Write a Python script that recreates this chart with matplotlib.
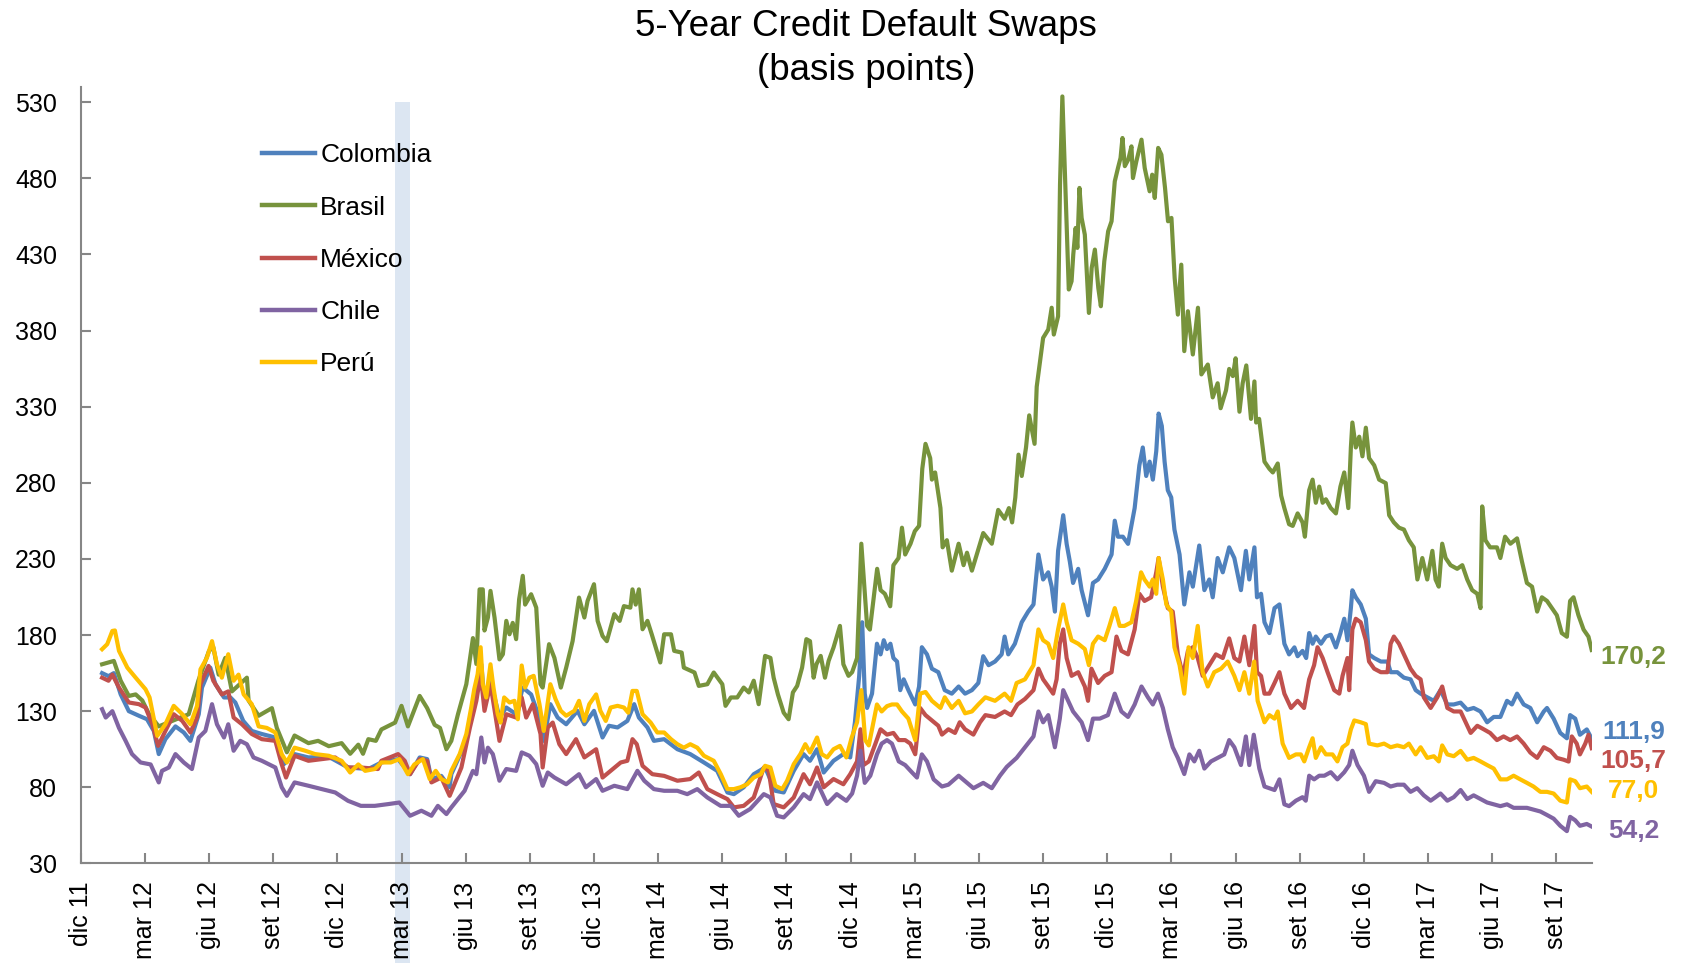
import matplotlib
matplotlib.use("Agg")
import matplotlib.pyplot as plt
from matplotlib.patches import Rectangle

plt.rcParams['font.family'] = ['Liberation Sans', 'DejaVu Sans']

# x = months since the "dic 11" tick
tick_months = list(range(0, 70, 3))
tick_labels = ["dic 11", "mar 12", "giu 12", "set 12", "dic 12", "mar 13", "giu 13", "set 13",
               "dic 13", "mar 14", "giu 14", "set 14", "dic 14", "mar 15", "giu 15", "set 15",
               "dic 15", "mar 16", "giu 16", "set 16", "dic 16", "mar 17", "giu 17", "set 17"]

colombia_m = [1.0, 1.3, 1.55, 1.87, 2.25, 2.72, 3.1, 3.42, 3.65, 3.96, 4.43, 4.82, 5.13, 5.52, 5.67, 6.06, 6.3, 6.7, 7.0, 7.23,
              7.6, 8.0, 8.47, 9.1, 9.48, 10.0, 10.65, 11.6, 12.5, 13.45, 14.06, 14.84, 15.4, 15.85, 16.2, 16.4, 16.86, 17.25,
              17.33, 18.03, 18.4, 18.73, 18.88, 19.16, 19.58, 19.9, 20.36, 20.67, 21.06, 21.45, 21.65, 21.96, 22.3, 22.7,
              23.23, 23.55, 24.0, 24.4, 24.7, 25.1, 25.56, 25.88, 26.1, 26.5, 26.8, 27.28, 27.9, 28.5, 29.14, 29.76, 30.24,
              30.54, 31.0, 31.47, 32.0, 32.48, 32.87, 33.34, 33.8, 34.1, 34.43, 34.74, 35.2, 35.66, 35.98,
              36.2, 36.4, 36.54, 36.66, 36.77, 37.0, 37.23, 37.4, 37.55, 37.7, 37.86, 38.0, 38.17, 38.32, 38.48, 38.7, 39.02,
              39.2, 39.33, 39.57, 39.8, 40.1, 40.4, 40.73, 41.05, 41.35, 41.67, 41.97, 42.2, 42.45, 42.75, 43.06, 43.2,
              43.37, 43.68, 44.0, 44.3, 44.55, 44.78, 45.0, 45.24, 45.4, 45.55, 45.7, 45.94, 46.1, 46.25, 46.4, 46.64,
              46.8, 47.1, 47.33, 47.57, 47.88, 48.2, 48.35, 48.5, 48.73, 48.97, 49.28, 49.5, 49.66, 49.82, 49.98, 50.13,
              50.29, 50.4, 50.55, 50.68, 50.83, 50.99, 51.14, 51.38, 51.6, 51.84, 52.0, 52.3, 52.54, 52.77, 52.93, 53.16,
              53.4, 53.7, 53.94, 54.25, 54.48, 54.64, 54.88, 55.0, 55.19, 55.35, 55.58, 55.82, 56.05, 56.28, 56.5, 56.75,
              56.9, 57.13, 57.3, 57.44, 57.6, 57.75, 57.99, 58.22, 58.45, 58.69, 58.9, 59.08, 59.23, 59.39, 59.46, 59.62,
              59.85, 60.09, 60.24, 60.48, 60.79, 61.1, 61.25, 61.56, 61.87, 62.18, 62.42, 62.65, 62.96, 63.27, 63.58, 63.9,
              64.2, 64.52, 64.83, 65.13, 65.45, 65.76, 66.07, 66.38, 66.69, 66.92, 67.16, 67.47, 67.78, 68.1, 68.41, 68.56,
              68.87, 69.18, 69.49, 69.64, 69.88, 70.1, 70.42, 70.65]
colombia_v = [155, 153, 155, 141, 130, 127, 124.7, 117, 101.8, 111.6, 120, 116, 110.5, 128, 145.5, 158.6, 147.7, 139, 139, 135.7,
              123.6, 117, 115, 112.7, 95, 101.8, 99.6, 100, 93, 92, 96.3, 98.5, 88.6, 99.6, 98.5, 85.4, 87.5, 80,
              88.6, 110.5, 141, 160.8, 136.8, 150, 125.8, 132.4, 128, 145.5, 141, 125.8, 110.5, 134.6, 125.8, 121.4,
              130.2, 121.4, 130.2, 112.7, 120.4, 119.3, 123.6, 134.6, 125.8, 119.3, 110.5, 111.6, 105, 101.8, 96.3, 90.8, 76.6,
              75.5, 80, 88.6, 93, 77.7, 76.6, 90.8, 101.8, 97.4, 105, 89.7, 97.4, 101.8, 99.6,
              122.7, 153.2, 188.4, 141.5, 132.1, 141.5, 174.3, 167.3, 176.6, 170.8, 174.3, 164.9, 162.6, 143.8, 150.9, 143.8, 134.4,
              146.2, 172, 167.3, 157.9, 155.6, 143.8, 141.5, 146.2, 141.5, 143.8, 148.5, 166.1, 160.2, 162.6, 167.3, 179,
              167.3, 174.3, 188.4, 195.4, 200.1, 232.9, 216.5, 221.2, 211.8, 195.4, 235.3, 258.7, 239.9, 228.2, 214.2, 223.5,
              209.5, 193, 214.2, 216.5, 223.5, 232.9, 255.1, 244.6, 244.6, 239.9, 263.4, 291.5, 303.2, 284.5, 293.9, 282.1,
              300.8, 325.5, 317.3, 293.9, 275.1, 270.4, 249.3, 232.9, 200.1, 221.2, 211.8, 238.8, 209.5, 216.5, 204.8, 230.6,
              221.2, 237.6, 230.6, 209.5, 235.3, 216.5, 237.6, 204.8, 207.1, 188.4, 181.3, 197.7, 200.1, 174.3, 167.3, 171.9,
              166.1, 169.6, 164.9, 181.3, 174.3, 179, 174.3, 179, 180.2, 171.9, 181.3, 190.7, 176.6, 197.7, 209.4, 204.8,
              200.1, 190.7, 167.3, 164.9, 162.6, 162.6, 155.6, 155.6, 152, 150.9, 143.8, 141.5, 139.1, 136.8, 143.8, 134.4,
              134.4, 135.6, 130.9, 132.1, 129.8, 122.7, 126.2, 126.2, 136.8, 134.4, 141.5, 134.4, 132.1, 122.7, 129.8, 132.1,
              125.1, 115.7, 112.2, 127.4, 125.1, 114.5, 118, 111.9]

brasil_m = [1.0, 1.55, 1.87, 2.25, 2.57, 2.88, 3.2, 3.65, 4.28, 5.05, 5.5, 6.0, 6.2, 6.45, 6.76, 7.07, 7.77, 7.85, 8.32, 8.94,
            9.17, 9.64, 10.0, 10.65, 11.1, 11.6, 12.2, 12.6, 12.98, 13.2, 13.45, 13.8, 14.06, 14.7, 15.0, 15.3, 15.85, 16.2,
            16.55, 16.8, 17.1, 17.33, 17.64, 18.03, 18.34, 18.5, 18.65, 18.8, 18.88, 19.04, 19.16, 19.35, 19.58, 19.74, 19.9,
            20.05, 20.2, 20.36, 20.5, 20.67, 20.78, 21.06, 21.3, 21.5, 21.6, 21.9, 22.15, 22.45, 22.7, 23.0, 23.3, 23.55,
            23.7, 24.0, 24.17, 24.4, 24.6, 24.95, 25.2, 25.4, 25.7, 25.8, 25.95, 26.1, 26.27, 26.5, 26.7, 27.1, 27.28,
            27.6, 27.75, 28.1, 28.2, 28.7, 28.9, 29.3, 29.6, 30.0, 30.15, 30.4, 30.7, 31.0, 31.24, 31.47, 31.7, 32.0, 32.25,
            32.4, 32.6, 32.87, 33.1, 33.3, 33.5, 33.73, 33.93, 34.1, 34.27, 34.4, 34.6, 34.8, 34.97, 35.2, 35.5, 35.66, 35.9,
            36.07, 36.3, 36.5, 36.77, 36.9, 37.08, 37.24, 37.4, 37.6, 37.85, 38.0, 38.24, 38.4, 38.55, 38.8, 39.0, 39.2,
            39.35, 39.5, 39.72, 39.8, 39.95, 40.2, 40.3, 40.5, 40.73, 41.05, 41.28, 41.44, 41.67, 42.0, 42.2, 42.6, 42.9,
            43.2, 43.4, 43.55, 43.7, 43.85, 44.0, 44.2, 44.35, 44.6, 44.7, 45.0, 45.24, 45.4, 45.5, 45.7, 45.79, 45.9,
            46.03, 46.1, 46.2, 46.33, 46.41, 46.52, 46.6, 46.7, 46.8, 46.95, 47.14, 47.27, 47.42, 47.58, 47.7, 47.86, 48.04,
            48.2, 48.35, 48.5, 48.62, 48.71, 48.82, 48.98, 49.13, 49.2, 49.36, 49.6, 49.75, 49.98, 50.1, 50.22, 50.38,
            50.53, 50.7, 50.84, 51.0, 51.15, 51.3, 51.46, 51.6, 51.77, 52.0, 52.24, 52.4, 52.7, 52.93, 53.16, 53.3, 53.55,
            53.7, 53.87, 54.0, 54.18, 54.33, 54.5, 54.72, 54.88, 54.96, 55.1, 55.35, 55.58, 55.74, 55.97, 56.13, 56.28,
            56.5, 56.67, 56.9, 57.13, 57.24, 57.44, 57.6, 57.75, 57.91, 58.07, 58.22, 58.45, 58.69, 58.9, 59.08, 59.27,
            59.39, 59.46, 59.62, 59.78, 59.93, 60.09, 60.24, 60.48, 60.71, 61.02, 61.18, 61.4, 61.64, 61.87, 62.1, 62.33,
            62.5, 62.73, 62.96, 63.2, 63.35, 63.5, 63.66, 63.82, 64.05, 64.36, 64.6, 64.83, 65.06, 65.3, 65.45, 65.53,
            65.68, 65.9, 66.22, 66.38, 66.6, 66.85, 67.16, 67.39, 67.62, 67.86, 68.1, 68.32, 68.56, 68.79, 69.02, 69.25,
            69.49, 69.64, 69.8, 70.03, 70.27, 70.5, 70.65]
brasil_v = [160.8, 163, 150, 140, 141, 137, 128, 120, 123.6, 128, 150, 169.6, 172, 154, 165, 143, 152, 137, 127, 132,
            119, 103, 114, 109, 110.5, 107, 109, 102, 108, 102, 111.6, 110.5, 118, 122.5, 133.5, 120, 140, 132,
            121, 119, 105, 110.5, 128, 147.7, 178, 161, 210, 210, 183, 191.5, 209, 191.5, 164, 167.4, 189.3,
            180.5, 188, 177.3, 203.5, 218.9, 200, 206.8, 198, 147.7, 145.5, 174, 165, 145.5, 158.6, 176, 204.6, 191.5,
            202.4, 213.4, 189.3, 179.4, 176, 193.7, 189.3, 199, 198, 210, 200, 210, 183.8, 189.3, 180.5, 162, 180.5,
            180.5, 169.6, 168.5, 158.6, 155.4, 146.6, 147.7, 155.4, 147.7, 133.5, 139, 139, 145.5, 142.3, 150, 134.6, 166.3, 165,
            152, 141, 129, 124.7, 142.3, 146.6, 158.6, 177.3, 176, 152, 160.8, 166.3, 152, 163, 171.8, 186, 160.8, 153.2,
            155.6, 164.9, 240, 186, 183.6, 204.8, 223.5, 209.5, 207.1, 198.9, 225.9, 230.6, 250.5, 232.9, 240, 248.2, 251.7,
            289.2, 305.6, 296.2, 282.1, 286.8, 263.4, 237.6, 242.3, 222.3, 240, 225.9, 234.1, 222.3, 237.6, 247, 240, 262.2,
            256.4, 263.4, 254, 270.4, 298.5, 284.5, 303.2, 324.3, 305.6, 343.1, 375.2, 380.7, 395, 377.4, 389.4, 475.8, 533.8,
            478, 446.3, 407, 412.4, 430, 447.4, 434.3, 473.7, 454, 443, 391.6, 421.1, 433.2, 408, 396, 425.5, 445.2,
            451.8, 478, 486.8, 493.4, 506.5, 488, 492.3, 501, 480.2, 491.2, 505.4, 486.8, 471.5, 482.4, 467.1, 500,
            495.5, 473.7, 451.8, 454, 414.6, 390.5, 423.3, 366.5, 392.7, 364.3, 395, 351.2, 357.7, 336.1, 345.4, 329, 340.7,
            354.8, 350.1, 361.8, 326.7, 345.4, 357.1, 322, 346.6, 319.6, 322, 293.9, 289.2, 286.8, 292.7, 271.6, 263.4,
            252.8, 251.7, 259.9, 254, 244.6, 275.1, 282.1, 266.9, 277.5, 266.9, 269.2, 263.4, 259.9, 277.5, 286.8, 263.4,
            303.2, 319.6, 303.2, 310.3, 297.4, 316.2, 296.2, 291.5, 282.1, 279.8, 258.7, 254, 250.5, 249.3, 242.3, 237.6,
            216.5, 230.6, 216.5, 235.3, 216.5, 211.8, 240, 230.6, 225.9, 223.5, 225.9, 216.5, 209.5, 207.1, 197.7, 264.5,
            242.3, 237.6, 237.6, 230.6, 244.6, 240, 243.5, 228.2, 214.2, 211.8, 195.4, 204.8, 202.4, 197.7, 193, 181.3,
            178.9, 202.4, 204.8, 193, 183.6, 178.9, 170.2]

mexico_m = [1.0, 1.3, 1.48, 1.79, 2.25, 2.72, 3.03, 3.35, 3.62, 3.96, 4.35, 4.75, 5.13, 5.44, 5.6, 5.98, 6.2, 6.6, 6.9, 7.15,
            7.54, 8.0, 8.47, 9.1, 9.4, 9.6, 10.0, 10.65, 11.27, 11.9, 12.5, 13.1, 13.9, 14.06, 14.84, 15.15, 15.4, 15.85,
            16.2, 16.4, 16.86, 17.25, 17.8, 18.2, 18.5, 18.7, 18.88, 19.16, 19.58, 19.9, 20.36, 20.62, 20.83, 21.14, 21.5,
            21.6, 21.84, 22.07, 22.38, 22.7, 23.16, 23.55, 24.1, 24.4, 24.78, 25.25, 25.56, 25.8, 26.0, 26.27, 26.73, 27.28,
            27.9, 28.5, 28.9, 29.3, 29.76, 30.24, 30.54, 31.0, 31.47, 31.94, 32.17, 32.4, 32.87, 33.34, 33.8, 34.1, 34.43,
            34.74, 35.2, 35.66, 35.98, 36.3, 36.46, 36.6, 36.85, 37.16, 37.4, 37.7, 38.0, 38.25, 38.55, 38.79, 39.02, 39.25,
            39.5, 39.8, 40.1, 40.27, 40.57, 40.88, 41.1, 41.35, 41.74, 42.05, 42.3, 42.75, 43.2, 43.5, 43.8, 44.15, 44.55,
            44.78, 45.0, 45.24, 45.47, 45.63, 45.78, 45.94, 46.1, 46.33, 46.64, 46.95, 47.1, 47.26, 47.57, 47.88, 48.2,
            48.43, 48.66, 48.97, 49.28, 49.5, 49.74, 50.05, 50.29, 50.4, 50.6, 50.83, 51.06, 51.3, 51.54, 51.77, 52.0,
            52.23, 52.46, 52.77, 53.08, 53.4, 53.7, 53.94, 54.18, 54.41, 54.64, 54.88, 55.0, 55.19, 55.35, 55.58, 55.82,
            56.05, 56.28, 56.59, 56.9, 57.2, 57.44, 57.67, 57.83, 58.07, 58.3, 58.61, 58.85, 59.0, 59.23, 59.31, 59.46,
            59.62, 59.85, 60.09, 60.24, 60.48, 60.79, 61.1, 61.25, 61.4, 61.64, 61.87, 62.18, 62.42, 62.65, 62.8, 63.12,
            63.43, 63.66, 63.9, 64.2, 64.52, 64.83, 64.99, 65.3, 65.6, 65.9, 66.22, 66.53, 66.84, 67.16, 67.47, 67.78,
            68.1, 68.41, 68.72, 69.02, 69.34, 69.57, 69.72, 69.95, 70.1, 70.35, 70.5, 70.65]
mexico_v = [152, 150, 154, 145.5, 135.7, 134.6, 132.4, 121.4, 107.2, 117, 128, 123.6, 116, 125.8, 147.7, 159.7, 150, 141, 143, 125.8,
            121.4, 115, 111.6, 110.5, 95, 86.4, 100.7, 97.4, 98.5, 99.6, 93, 93, 92, 97.4, 101.8, 97.4, 88.6, 98.5,
            97.4, 83.2, 86.4, 74.4, 93, 119.3, 136.8, 154.3, 130.2, 147.7, 110.5, 128, 125.8, 139, 125.8, 134.6, 115,
            93, 119.3, 122.5, 108.3, 101.8, 111.6, 99.6, 105, 86.4, 90.8, 96.3, 97.4, 111.6, 108.3, 94.1, 88.6, 87.5,
            84.3, 85.4, 89.7, 78.8, 75.5, 72.2, 66.8, 67.8, 73.3, 93, 90.8, 69, 66.8, 73.3, 88.6, 82, 93,
            80, 85.4, 82, 88.6, 97, 118.1, 94.6, 97, 108.7, 118.1, 114.6, 115.7, 111, 111, 108.7, 101.7, 132.1,
            127.4, 123.9, 120.4, 114.6, 118.1, 115.7, 122.7, 118.1, 114.6, 122.7, 127.4, 126.2, 129.8, 127.4, 134.4, 138, 143.8,
            157.9, 150.9, 146.2, 141.5, 150.9, 174.3, 183.7, 164.9, 153.2, 155.6, 146.2, 136.8, 157.9, 148.5, 153.2, 155.6,
            179, 169.6, 167.3, 183.7, 207.1, 202.4, 204.8, 221.2, 230.6, 211.8, 197.7, 195.4, 167.3, 153.2, 169.6, 172,
            164.9, 153.2, 160.2, 167.3, 164.9, 177.8, 164.9, 162.6, 179, 160.2, 186, 155.6, 153.2, 141.5, 141.5, 148.5,
            155.6, 141.5, 132.1, 136.8, 132.1, 150.9, 160.2, 172, 164.9, 155.6, 143.8, 141.5, 153.2, 164.9, 143.8, 183.7,
            190.7, 188.4, 176.6, 162.6, 157.9, 155.6, 155.6, 174.3, 179, 174.3, 167.3, 157.9, 153.2, 150.9, 139.1, 132.1,
            139.1, 146.2, 132.1, 129.8, 129.8, 120.4, 115.7, 120.4, 118.1, 115.7, 111, 113.4, 111, 113.4, 108.7, 102.8,
            99.3, 106.3, 104, 99.3, 98.1, 96.9, 113.4, 108.7, 101.6, 108.7, 114.5, 105.7]

chile_m = [1.0, 1.17, 1.48, 1.79, 2.1, 2.4, 2.8, 3.27, 3.65, 3.8, 4.12, 4.43, 4.82, 5.2, 5.52, 5.83, 6.14, 6.37, 6.7, 6.9,
           7.15, 7.46, 7.77, 8.08, 8.47, 9.1, 9.4, 9.64, 10.0, 10.65, 11.27, 11.9, 12.5, 13.1, 13.75, 14.4, 14.9, 15.4,
           15.93, 16.4, 16.7, 17.1, 17.33, 17.95, 18.34, 18.5, 18.73, 18.88, 19.04, 19.27, 19.58, 19.9, 20.36, 20.62, 20.98,
           21.3, 21.6, 21.84, 22.15, 22.7, 23.3, 23.62, 24.1, 24.4, 24.95, 25.56, 26.03, 26.35, 26.8, 27.28, 27.9, 28.36,
           28.83, 29.3, 29.92, 30.4, 30.77, 31.3, 31.94, 32.25, 32.56, 32.87, 33.34, 33.8, 34.1, 34.43, 34.9, 35.35, 35.8,
           36.07, 36.3, 36.46, 36.66, 36.92, 37.23, 37.45, 37.7, 37.93, 38.25, 38.55, 38.86, 39.1, 39.33, 39.57, 39.88,
           40.27, 40.57, 41.05, 41.35, 41.74, 42.2, 42.6, 42.98, 43.3, 43.76, 44.15, 44.55, 44.78, 45.0, 45.24, 45.55,
           45.78, 45.94, 46.17, 46.4, 46.8, 47.1, 47.33, 47.65, 48.03, 48.35, 48.66, 48.97, 49.28, 49.6, 49.9, 50.13,
           50.37, 50.6, 50.83, 51.06, 51.3, 51.6, 51.84, 52.07, 52.3, 52.54, 52.85, 53.16, 53.47, 53.7, 53.94, 54.25,
           54.48, 54.64, 54.85, 55.11, 55.35, 55.58, 55.82, 56.05, 56.28, 56.5, 56.82, 57.13, 57.28, 57.44, 57.67, 57.91,
           58.15, 58.45, 58.76, 59.08, 59.31, 59.46, 59.7, 60.0, 60.24, 60.55, 60.94, 61.25, 61.56, 61.87, 62.18, 62.49,
           62.8, 63.12, 63.35, 63.58, 63.9, 64.2, 64.52, 64.83, 65.13, 65.45, 65.76, 66.07, 66.38, 66.69, 67.0, 67.31,
           67.62, 67.93, 68.25, 68.56, 68.87, 69.18, 69.49, 69.64, 69.88, 70.1, 70.42, 70.65]
chile_v = [131.3, 125.8, 130, 119, 110.5, 101.8, 96.3, 95, 83.2, 90.8, 93, 101.8, 96.3, 92, 112.7, 117, 134.6, 121.4, 112.7, 121.4,
           104, 110.5, 108.3, 99.6, 97.4, 93, 80, 74.4, 83.2, 81, 78.8, 76.6, 71.1, 67.8, 67.8, 69, 70, 61.3,
           64.6, 61.3, 67.8, 62.4, 66.8, 77.7, 90.8, 88.6, 112.7, 96.3, 106, 101.8, 84.3, 92, 90.8, 102.9, 100.7,
           95.2, 81, 89.7, 86.4, 82, 88.6, 80, 85.4, 77.7, 81, 78.8, 90.8, 84.3, 78.8, 77.7, 77.7, 75.5,
           78.8, 73.3, 67.8, 67.8, 61.3, 65.7, 75.5, 73.3, 61.3, 60.2, 66.8, 75.5, 72.2, 83.2, 69, 75.5, 71.1,
           75.9, 87.6, 104, 82.9, 87.6, 101.6, 108.7, 111, 108.7, 97, 94.6, 89.9, 86.4, 101.6, 97, 85.2,
           80.5, 81.7, 87.6, 84, 79.4, 82.9, 79.4, 87.6, 93.4, 99.3, 106.3, 113.4, 129.8, 122.7, 127.4, 106.3,
           125.1, 143.8, 136.8, 129.8, 122.7, 111, 125.1, 125.1, 127.4, 141.5, 129.8, 126.2, 134.4, 146.2, 139.1, 134.4,
           141.5, 132.1, 118.1, 106.3, 99.3, 88.7, 101.6, 97, 104, 92.3, 97, 99.3, 101.6, 111, 106.3, 94.6,
           113.4, 94.6, 114.5, 92.3, 80.5, 79.4, 78.2, 85.2, 68.8, 67.6, 71.2, 73.5, 71.2, 87.6, 85.2, 87.6,
           87.6, 89.9, 85.2, 89.9, 94.6, 104, 94.6, 87.6, 77, 84, 82.9, 80.5, 81.7, 81.7, 77, 79.4,
           74.7, 71.2, 73.5, 75.9, 71.2, 73.5, 78.2, 72.3, 74.7, 72.3, 70, 68.8, 67.6, 68.8, 66.5, 66.5,
           66.5, 65.3, 64.1, 61.8, 59.4, 54.7, 51.2, 60.6, 58.3, 54.7, 55.9, 54.2]

peru_m = [1.0, 1.24, 1.48, 1.6, 1.79, 2.18, 2.57, 3.03, 3.22, 3.58, 3.96, 4.35, 4.75, 5.13, 5.44, 5.6, 5.9, 6.14, 6.37, 6.6,
          6.9, 7.15, 7.38, 7.62, 8.0, 8.32, 8.7, 9.1, 9.4, 9.64, 10.0, 10.5, 10.96, 11.6, 12.2, 12.6, 12.98, 13.3, 13.75,
          14.06, 14.5, 14.9, 15.3, 15.6, 16.0, 16.32, 16.6, 16.86, 17.17, 17.33, 17.72, 18.03, 18.26, 18.4, 18.56, 18.7,
          18.8, 18.96, 19.16, 19.3, 19.5, 19.63, 19.8, 20.05, 20.28, 20.44, 20.62, 20.78, 20.98, 21.18, 21.45, 21.65,
          21.96, 22.2, 22.45, 22.7, 23.08, 23.3, 23.55, 23.78, 24.1, 24.3, 24.55, 24.78, 25.1, 25.4, 25.6, 25.8, 26.0,
          26.27, 26.65, 26.96, 27.28, 27.6, 27.9, 28.2, 28.5, 28.83, 29.14, 29.6, 29.93, 30.24, 30.54, 30.85, 31.16,
          31.47, 31.8, 32.0, 32.25, 32.48, 32.8, 33.03, 33.34, 33.65, 33.88, 34.1, 34.43, 34.65, 34.9, 35.2, 35.5, 35.8,
          36.05, 36.3, 36.5, 36.68, 36.85, 37.0, 37.23, 37.45, 37.7, 37.93, 38.17, 38.4, 38.7, 39.02, 39.25, 39.5, 39.8,
          40.2, 40.4, 40.73, 41.05, 41.35, 41.67, 41.97, 42.3, 42.75, 43.2, 43.5, 43.76, 44.15, 44.55, 44.78, 45.0, 45.24,
          45.47, 45.7, 45.94, 46.1, 46.33, 46.64, 46.95, 47.14, 47.33, 47.57, 47.88, 48.1, 48.35, 48.58, 48.8, 49.13,
          49.35, 49.58, 49.74, 49.98, 50.13, 50.29, 50.4, 50.6, 50.76, 50.99, 51.14, 51.38, 51.6, 51.8, 52.0, 52.23,
          52.46, 52.7, 53.0, 53.32, 53.63, 53.94, 54.18, 54.41, 54.64, 54.87, 55.03, 55.35, 55.58, 55.82, 55.97, 56.2,
          56.5, 56.82, 57.05, 57.21, 57.44, 57.6, 57.75, 57.99, 58.22, 58.53, 58.76, 59.0, 59.23, 59.39, 59.55, 59.85,
          60.09, 60.24, 60.63, 60.94, 61.25, 61.56, 61.87, 62.1, 62.42, 62.65, 62.96, 63.27, 63.5, 63.66, 63.9, 64.2,
          64.52, 64.83, 65.13, 65.45, 65.76, 66.07, 66.38, 66.69, 67.0, 67.31, 67.62, 67.93, 68.25, 68.56, 68.87, 69.18,
          69.49, 69.64, 69.88, 70.1, 70.42, 70.65]
peru_v = [170.7, 174, 182.7, 183, 169.6, 158.6, 152, 144.4, 139, 113.8, 121.4, 133.5, 128, 121.4, 133.5, 157.5, 165, 176, 160.8, 152,
          167.4, 150, 154, 141, 134.6, 120, 119, 116, 101.8, 96.3, 106, 104, 101.8, 100.7, 97.4, 89.7, 95, 90.8, 92,
          96.3, 96.3, 98.5, 88.6, 95, 98.5, 85.4, 90.8, 85.4, 83.2, 90.8, 101.8, 115, 132.4, 144.4, 154.3, 172,
          147.7, 139, 160.8, 145.5, 128, 122.5, 139, 135.7, 136.8, 124.7, 160, 145.5, 152, 153.2, 134.6, 117,
          147.7, 138, 130.2, 127, 130.2, 136.8, 123.6, 134.6, 141, 130.2, 123.6, 132.4, 133.5, 132.4, 129, 143.3, 143.3,
          128, 122.5, 116, 116, 111.6, 108.3, 106, 108.3, 106, 100.7, 97.4, 88.6, 78.8, 78.8, 80, 82,
          86.4, 88.6, 94.1, 93, 81, 78.8, 84.3, 95.2, 101.8, 108.3, 102.9, 112.7, 101.8, 99.6, 105, 107.2, 99.6,
          112.7, 122.7, 143.8, 111, 107.5, 118.1, 134.4, 129.8, 133.3, 134.4, 134.4, 129.8, 125.1, 111, 141.5, 142.6, 136.8,
          132.1, 139.1, 132.1, 136.8, 128.6, 129.8, 134.4, 139.1, 136.8, 141.5, 136.8, 148.5, 150.9, 160.2, 183.7, 176.6, 174.3,
          164.9, 183.7, 200.1, 188.4, 176.6, 174.3, 170.8, 160.2, 174.3, 179, 176.6, 186, 197.7, 186, 186, 188.4,
          202.4, 221.2, 216.5, 211.8, 216.5, 207.1, 230.6, 216.5, 200.1, 195.4, 172, 160.2, 141.5, 172, 164.9, 186,
          155.6, 146.2, 155.6, 157.9, 162.6, 153.2, 143.8, 155.6, 141.5, 162.6, 136.8, 122.7, 127.4, 125.1, 129.8, 108.7,
          99.3, 101.6, 101.6, 97, 106.3, 112.2, 99.3, 106.3, 101.6, 101.6, 97, 106.3, 108.7, 118, 123.9, 122.7,
          121.5, 108.7, 107.5, 108.7, 106.3, 107.5, 106.3, 108.7, 101.6, 106.3, 99.3, 100.4, 97, 107.5, 101.6, 100.4,
          103.9, 98.1, 99.3, 97, 94.6, 92.3, 85.2, 85.2, 87.6, 85.2, 82.9, 80.5, 77, 77, 75.9, 71.2,
          70, 85.2, 84, 79.4, 80.5, 77.0]

names = ["Colombia", "Brasil", "México", "Chile", "Perú"]
months = [colombia_m, brasil_m, mexico_m, chile_m, peru_m]
values = [colombia_v, brasil_v, mexico_v, chile_v, peru_v]
last_values = [111.9, 170.2, 105.7, 54.2, 77.0]
colors = ["#4F81BD", "#77933C", "#C0504D", "#8064A2", "#FFC000"]

fig = plt.figure(figsize=(16.88, 9.63), dpi=100)
ax = fig.add_axes([80.7 / 1688, 1 - 863.4 / 963, 1511 / 1688, 776.4 / 963])

# highlighted week around mar 13, runs down through the date labels
ax.add_patch(Rectangle((14.7, -45), 0.7, 575, facecolor="#DCE6F2", edgecolor="none",
                       clip_on=False, zorder=0))

for name, m, v, c in zip(names, months, values, colors):
    ax.plot(m, v, color=c, lw=3.0, label=name, solid_joinstyle="round")

# end-of-series labels to the right of the plot
label_y = [116.3, 165.8, 97.2, 51.2, 77.4]
for val, y, c in zip(last_values, label_y, colors):
    ax.text(72.6, y, f"{val:.1f}".replace(".", ","), color=c, fontsize=19, fontweight="bold",
            ha="center", va="center", clip_on=False)

ax.set_xlim(0, 70.65)
ax.set_ylim(30, 540)
ax.set_yticks(range(30, 531, 50))
ax.set_xticks(tick_months)
ax.set_xticklabels(tick_labels, rotation=90)

for s in ["top", "right"]:
    ax.spines[s].set_visible(False)
for s in ["left", "bottom"]:
    ax.spines[s].set_color("#868686")
    ax.spines[s].set_linewidth(1.5)
ax.tick_params(axis="both", direction="in", length=7.5, width=1.5, color="#868686",
               labelcolor="black", labelsize=18)
ax.tick_params(axis="y", pad=17)
ax.tick_params(axis="x", pad=13)

leg = ax.legend(loc="upper left", bbox_to_anchor=(261.7 / 1688, 1 - 143.5 / 963),
                bbox_transform=fig.transFigure, frameon=False, fontsize=19,
                handlelength=2.02, handletextpad=0.2, labelspacing=1.07,
                borderpad=0, borderaxespad=0)
for line in leg.get_lines():
    line.set_linewidth(3.2)

fig.text(866 / 1688, 1 - 26 / 963, "5-Year Credit Default Swaps", ha="center", va="center", fontsize=26.5)
fig.text(866 / 1688, 1 - 70 / 963, "(basis points)", ha="center", va="center", fontsize=26.5)

fig.savefig("out.png", dpi=100)
